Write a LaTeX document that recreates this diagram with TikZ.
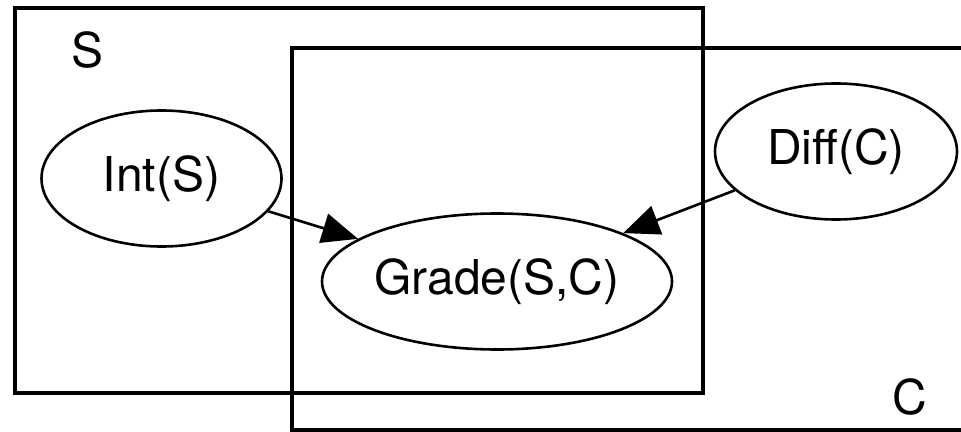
\documentclass[tikz,border=0pt]{standalone}
\usepackage{fontspec}
\setmainfont{TeX Gyre Heros}
\usetikzlibrary{shapes.geometric}
\usetikzlibrary{arrows.meta}

\begin{document}
\begin{tikzpicture}[x=0.5pt, y=-0.5pt,
      every node/.style={font=\fontsize{24}{28}\selectfont},
      var/.style={shape=ellipse, draw, line width=1.3pt, inner sep=0pt},
      plate/.style={draw, line width=1.7pt},
      dep/.style={-{Triangle[length=18pt,width=15pt]}, line width=1.3pt}]
	  \useasboundingbox (0,0) rectangle (961,432);
	  \clip (0,0) rectangle (961,432);
	  % plates
	  \draw[plate] (15,8) rectangle (703,393);
	  \draw[plate] (292,48) rectangle (990,430);
	  \node (plateS) at (88,50) {S};
	  \node (plateC) at (910,397) {C};
	  % variables
	  \node [var, minimum width=120pt, minimum height=68pt] (int) at (161.5,178.5) {Int(S)};
	  \node [var, minimum width=121pt, minimum height=68pt] (diff) at (836,151.5) {Diff(C)};
	  \node [var, minimum width=175pt, minimum height=68pt] (grade) at (497,281.5) {Grade(S,C)};
	  \draw[dep] (int) -- (grade);
	  \draw[dep] (diff) -- (grade);
    \end{tikzpicture}
\end{document}
